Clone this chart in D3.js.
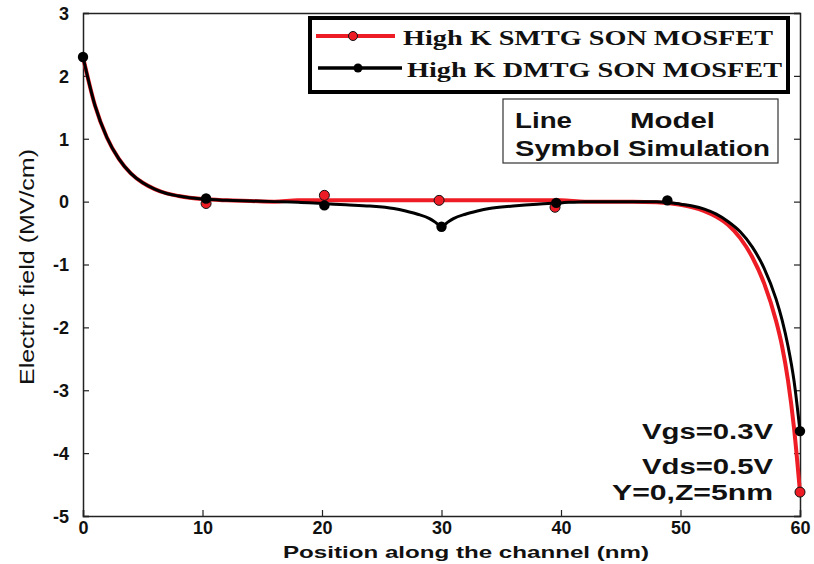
<!DOCTYPE html>
<html><head><meta charset="utf-8">
<script src="https://cdn.jsdelivr.net/npm/d3@7"></script>
<style>body{margin:0;background:#fff}svg{display:block}</style>
</head><body>
<svg id="c" width="814" height="564"></svg>
<script>
// ---- data ----
const xTicks = [0,10,20,30,40,50,60];
const yTicks = [3,2,1,0,-1,-2,-3,-4,-5];
const seriesNames = ["High K SMTG SON MOSFET","High K DMTG SON MOSFET"];
const annotations = ["Vgs=0.3V","Vds=0.5V","Y=0,Z=5nm"];
// model lines
const dmtgX = [0,1,2,3,4,5,6,7,8,10,12,14,16,18,20,22,24,26,27,28,29,29.5,30,30.5,31,32,33,34,36,38,40,42,44,46,48,50,51,52,53,54,55,56,57,58,58.5,59,59.5,60];
const dmtgY = [2.3,1.53,1.02,0.68,0.45,0.30,0.20,0.13,0.09,0.04,0.02,0.01,0.0,-0.01,-0.03,-0.05,-0.07,-0.11,-0.15,-0.2,-0.27,-0.33,-0.4,-0.33,-0.27,-0.2,-0.15,-0.11,-0.07,-0.04,-0.02,0,0,0,0,-0.04,-0.07,-0.12,-0.2,-0.32,-0.48,-0.72,-1.06,-1.55,-1.88,-2.3,-2.85,-3.65];
const smtgX = [0,1,2,3,4,5,6,7,8,10,12,14,16,18,20,25,30,35,40,42,44,46,48,50,51,52,53,54,55,56,57,58,58.5,59,59.5,60];
const smtgY = [2.3,1.53,1.02,0.68,0.45,0.30,0.20,0.13,0.09,0.04,0.02,0.01,0.0,0.02,0.02,0.02,0.02,0.02,0.02,0.0,0.0,0,-0.01,-0.05,-0.09,-0.15,-0.24,-0.37,-0.58,-0.88,-1.3,-1.9,-2.3,-2.85,-3.6,-4.62];
// simulation symbols
const smtgSimX = [10.3,20.2,29.8,39.5,60];
const smtgSimY = [-0.03,0.1,0.02,-0.09,-4.62];
const dmtgSimX = [0,10.3,20.2,30,39.6,48.9,60];
const dmtgSimY = [2.3,0.05,-0.06,-0.4,-0.02,0.02,-3.65];

// ---- layout ----
const L=83, R=800, T=13, B=516;
const svg = d3.select("#c");
svg.append("rect").attr("width",814).attr("height",564).attr("fill","#fff");
const x = d3.scaleLinear().domain([0,60]).range([L,R]);
const y = d3.scaleLinear().domain([-5,3]).range([B,T]);

const tickFont = "bold 18px 'Liberation Sans', Arial, sans-serif";
// axes with inward ticks
const gB = svg.append("g").attr("transform",`translate(0,${B})`)
  .call(d3.axisBottom(x).tickValues(xTicks).tickSize(-6).tickPadding(5).tickFormat(d3.format("d")));
const gL = svg.append("g").attr("transform",`translate(${L},0)`)
  .call(d3.axisLeft(y).tickValues(yTicks).tickSize(-6).tickPadding(14).tickFormat(d=>d<0?"-"+Math.abs(d):d));
const gR = svg.append("g").attr("transform",`translate(${R},0)`)
  .call(d3.axisRight(y).tickValues(yTicks).tickSize(-6).tickFormat(""));
const gT = svg.append("g").attr("transform",`translate(0,${T})`)
  .call(d3.axisTop(x).tickValues([]).tickSize(0));
[gB,gL,gR,gT].forEach(g=>{
  g.select(".domain").attr("stroke","#222").attr("stroke-width",1.5);
  g.selectAll(".tick line").attr("stroke","#222").attr("stroke-width",1.2);
  g.selectAll("text").style("font",tickFont).attr("fill","#111");
});
gL.selectAll("text").attr("dy","0.35em");

// axis labels
svg.append("text").attr("transform",`translate(34,267) rotate(-90)`)
  .attr("text-anchor","middle").style("font","21px 'Liberation Sans', Arial, sans-serif")
  .attr("fill","#111").attr("textLength",236).attr("lengthAdjust","spacingAndGlyphs")
  .text("Electric field (MV/cm)");
svg.append("text").attr("x",466).attr("y",558).attr("text-anchor","middle")
  .style("font","bold 17px 'Liberation Sans', Arial, sans-serif").attr("fill","#111")
  .attr("textLength",366).attr("lengthAdjust","spacingAndGlyphs")
  .text("Position along the channel (nm)");

// lines
const line = d3.line().x(d=>x(d[0])).y(d=>y(d[1])).curve(d3.curveMonotoneX);
const smtg = d3.zip(smtgX, smtgY), dmtg = d3.zip(dmtgX, dmtgY);
svg.append("path").datum(smtg).attr("d",line).attr("fill","none").attr("stroke","#ee1c24").attr("stroke-width",4);
svg.append("path").datum(dmtg).attr("d",line).attr("fill","none").attr("stroke","#000").attr("stroke-width",3);

svg.append("g").selectAll("circle").data(d3.zip(smtgSimX,smtgSimY)).join("circle")
  .attr("cx",d=>x(d[0])).attr("cy",d=>y(d[1])).attr("r",5).attr("fill","#ee1c24").attr("stroke","#111").attr("stroke-width",1);
svg.append("g").selectAll("circle").data(d3.zip(dmtgSimX,dmtgSimY)).join("circle")
  .attr("cx",d=>x(d[0])).attr("cy",d=>y(d[1])).attr("r",5.2).attr("fill","#000");

// legend box
svg.append("rect").attr("x",310).attr("y",18).attr("width",478).attr("height",74)
  .attr("fill","#fff").attr("stroke","#000").attr("stroke-width",4);
const legFont = "bold 22px 'Liberation Serif', 'Times New Roman', serif";
const leg = [
  {y:36, x1:316, x2:395, mx:353, tx:403, tl:370, base:45, color:"#ee1c24", mfill:"#ee1c24", mstroke:"#111"},
  {y:68, x1:318, x2:402, mx:358, tx:407, tl:375, base:77, color:"#000", mfill:"#000", mstroke:"none"}
];
leg.forEach((l,i)=>{
  svg.append("line").attr("x1",l.x1).attr("x2",l.x2).attr("y1",l.y).attr("y2",l.y)
    .attr("stroke",l.color).attr("stroke-width",i===0?4:3.5);
  svg.append("circle").attr("cx",l.mx).attr("cy",l.y).attr("r",4.5).attr("fill",l.mfill).attr("stroke",l.mstroke).attr("stroke-width",1);
  svg.append("text").attr("x",l.tx).attr("y",l.base).style("font",legFont).attr("fill","#111")
    .attr("textLength",l.tl).attr("lengthAdjust","spacingAndGlyphs").text(seriesNames[i]);
});

// Line/Symbol box
svg.append("rect").attr("x",503).attr("y",99).attr("width",275).attr("height",64)
  .attr("fill","#fff").attr("stroke","#333").attr("stroke-width",1.2);
const boxFont = "bold 22px 'Liberation Sans', Arial, sans-serif";
const boxText = [["Line",515,128,57],["Model",630,128,85],["Symbol",515,156,105],["Simulation",628,156,142]];
boxText.forEach(b=>svg.append("text").attr("x",b[1]).attr("y",b[2]).style("font",boxFont).attr("fill","#111")
  .attr("textLength",b[3]).attr("lengthAdjust","spacingAndGlyphs").text(b[0]));

// annotations
const annY = [439,474,500];
const annX = [642,642,612];
annotations.forEach((a,i)=>svg.append("text").attr("x",annX[i]).attr("y",annY[i])
  .style("font",boxFont).attr("fill","#111").attr("textLength",773-annX[i]).attr("lengthAdjust","spacingAndGlyphs").text(a));
</script>
</body></html>
